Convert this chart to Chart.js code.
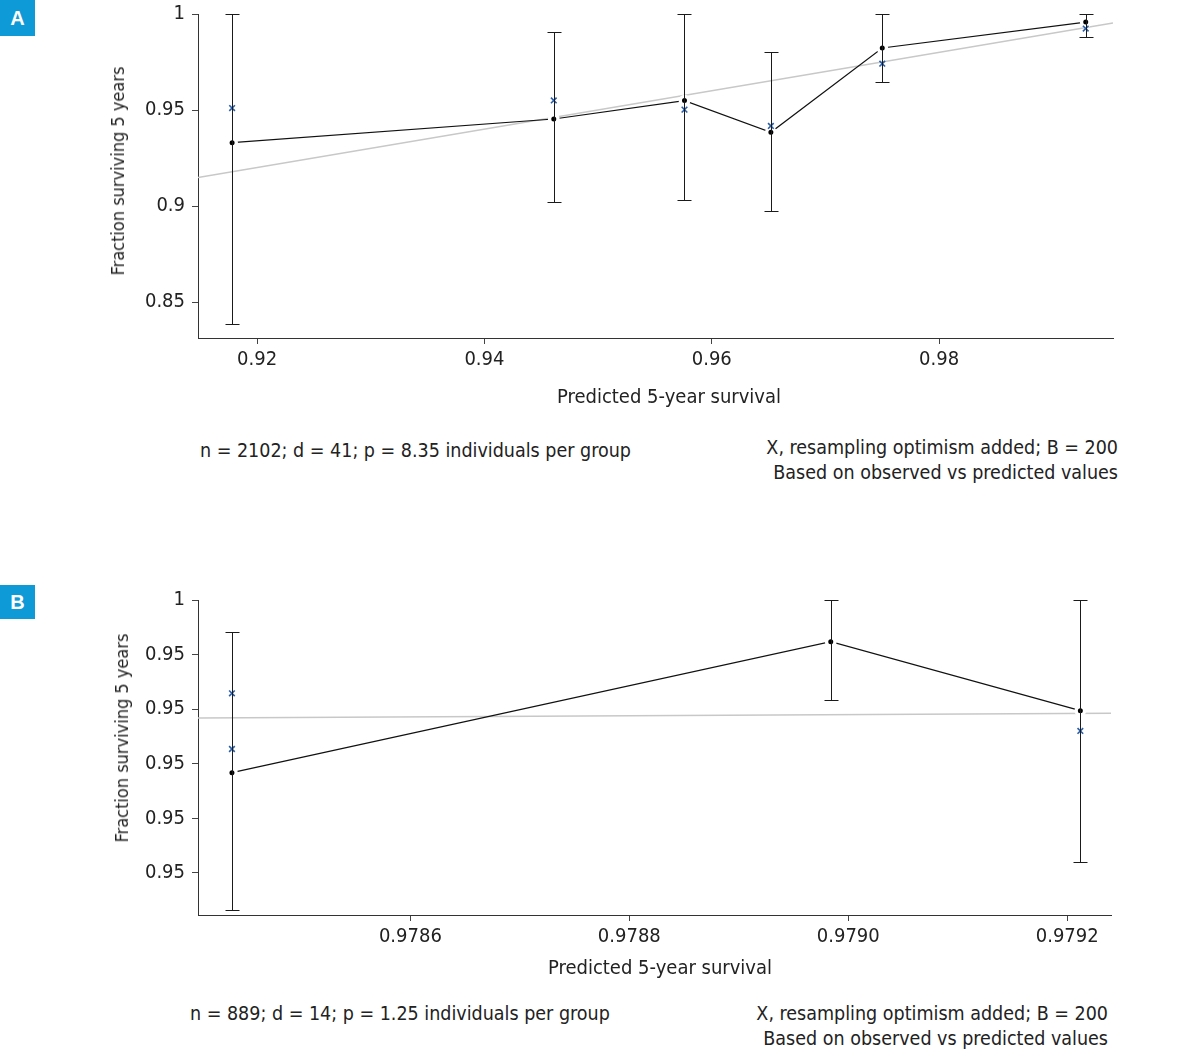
<!DOCTYPE html>
<html>
<head>
<meta charset="utf-8">
<script src="https://cdn.jsdelivr.net/npm/chart.js@4.4.1/dist/chart.umd.min.js"></script>
<style>
  body { margin: 0; background: #fff; width: 1199px; height: 1051px; position: relative; overflow: hidden;
         font-family: "Liberation Sans Narrow", "DejaVu Sans Condensed", sans-serif; color: #222; }
  canvas { position: absolute; left: 0; }
  .tag { position: absolute; left: 0; width: 35px; background: #0e9ad7; color: #fff; font: bold 20px "Liberation Sans", Arial, sans-serif;
         text-align: center; }
  .note { position: absolute; font-size: 19.5px; line-height: 25px; white-space: nowrap; }
  .axt { position: absolute; font-size: 20px; line-height: 24px; white-space: nowrap; transform: translate(-50%, -50%); }
  .axt.rot { font-size: 18px; transform: translate(-50%, -50%) rotate(-90deg); }
</style>
</head>
<body>
<div class="tag" style="top:0;height:36px;line-height:36px">A</div>
<div class="tag" style="top:585px;height:34px;line-height:34px">B</div>

<canvas id="chart-a" width="1199" height="420" style="top:0"></canvas>
<canvas id="chart-b" width="1199" height="420" style="top:580px"></canvas>

<div class="axt" style="left:669px;top:396px">Predicted 5-year survival</div>
<div class="axt rot" style="left:118px;top:171px">Fraction surviving 5 years</div>
<div class="axt" style="left:660px;top:967px">Predicted 5-year survival</div>
<div class="axt rot" style="left:122px;top:738px">Fraction surviving 5 years</div>

<div class="note" style="left:200px;top:438px">n = 2102; d = 41; p = 8.35 individuals per group</div>
<div class="note" style="right:81px;top:435px;text-align:right">X, resampling optimism added; B = 200<br>Based on observed vs predicted values</div>
<div class="note" style="left:190px;top:1001px">n = 889; d = 14; p = 1.25 individuals per group</div>
<div class="note" style="right:91px;top:1001px;text-align:right">X, resampling optimism added; B = 200<br>Based on observed vs predicted values</div>

<script>
// 面板 A 数据
const predA = [0.9178, 0.9461, 0.9576, 0.9652, 0.9750, 0.9929];
const obsA = [0.9330, 0.9453, 0.9549, 0.9384, 0.9823, 0.9958];
const optA = [0.9510, 0.9550, 0.9502, 0.9417, 0.9741, 0.9924];
const loA = [0.8385, 0.9021, 0.9031, 0.8976, 0.9647, 0.9879];
const hiA = [1.0, 0.9908, 1.0, 0.9804, 1.0, 1.0];
const xRangeA = [0.9148, 0.9953];
const yRangeA = [0.83125, 1];
const xTicksA = [0.92, 0.94, 0.96, 0.98];
const xTickLabelsA = ['0.92', '0.94', '0.96', '0.98'];
const yTicksA = [0.85, 0.9, 0.95, 1];
const yTickLabelsA = ['0.85', '0.9', '0.95', '1'];

// 面板 B 数据
const predB = [0.978437, 0.978984, 0.979212];
const obsB = [0.96837, 0.99237, 0.97973];
const optXB = [0.978437, 0.978437, 0.979212];
const optB = [0.98291, 0.97271, 0.97601];
const loB = [0.94322, 0.98175, 0.95196];
const hiB = [0.99420, 1.0, 1.0];
const xRangeB = [0.978406, 0.979240];
const yRangeB = [0.9423, 1];
const xTicksB = [0.9786, 0.9788, 0.979, 0.9792];
const xTickLabelsB = ['0.9786', '0.9788', '0.9790', '0.9792'];
const yTicksB = [0.95, 0.96, 0.97, 0.98, 0.99, 1];
const yTickLabelsB = ['0.95', '0.95', '0.95', '0.95', '0.95', '1'];

const FONT = '"Liberation Sans Narrow", "DejaVu Sans Condensed", sans-serif';
const INK = '#222';

// 误差线插件：用图表自己的坐标轴换算
const errorBars = {
    id: 'errorBars',
    afterDatasetsDraw(chart, args, opts) {
        const { ctx, scales: { x, y } } = chart;
        ctx.save();
        ctx.strokeStyle = '#1a1a1a';
        ctx.lineWidth = 1;
        opts.xs.forEach((v, i) => {
            const px = Math.round(x.getPixelForValue(v)) + 0.5;
            const top = Math.round(y.getPixelForValue(opts.hi[i])) + 0.5;
            const bot = Math.round(y.getPixelForValue(opts.lo[i])) + 0.5;
            ctx.beginPath();
            ctx.moveTo(px, top);
            ctx.lineTo(px, bot);
            ctx.moveTo(px - 7, top);
            ctx.lineTo(px + 7, top);
            ctx.moveTo(px - 7, bot);
            ctx.lineTo(px + 7, bot);
            ctx.stroke();
        });
        ctx.restore();
    }
};

function makeChart(id, p) {
    const pts = (xs, ys) => xs.map((v, i) => ({ x: v, y: ys[i] }));
    return new Chart(document.getElementById(id), {
        type: 'scatter',
        data: {
            datasets: [
                {
                    // 理想线 y = x
                    data: [{ x: p.xRange[0], y: p.xRange[0] }, { x: p.xRange[1], y: p.xRange[1] }],
                    showLine: true, borderColor: '#c8c8c8', borderWidth: 1.5,
                    pointRadius: 0, order: 3
                },
                {
                    data: pts(p.pred, p.obs),
                    showLine: true, borderColor: '#111', borderWidth: 1.2,
                    pointRadius: 4.2, pointBackgroundColor: '#000',
                    pointBorderColor: '#fff', pointBorderWidth: 3.4, order: 2
                },
                {
                    data: pts(p.optX, p.opt),
                    pointStyle: 'crossRot', pointRadius: 4,
                    borderColor: '#2b5ea8', borderWidth: 1.6, order: 1
                }
            ]
        },
        options: {
            responsive: false,
            animation: false,
            devicePixelRatio: 1,
            layout: { padding: { top: p.padTop, right: p.padRight, left: 0, bottom: 0 } },
            plugins: {
                legend: { display: false },
                tooltip: { enabled: false },
                errorBars: { xs: p.pred, lo: p.lo, hi: p.hi }
            },
            scales: {
                x: {
                    type: 'linear', min: p.xRange[0], max: p.xRange[1],
                    afterFit(s) { s.height = p.xAxisH; s.paddingLeft = 0; s.paddingRight = 0; },
                    afterBuildTicks(s) { s.ticks = p.xTicks.map(v => ({ value: v })); },
                    grid: { drawOnChartArea: false, drawTicks: true, tickLength: 6, color: '#444' },
                    border: { color: '#333', width: 1 },
                    ticks: {
                        color: INK, padding: 4, maxRotation: 0,
                        font: { family: FONT, size: 20 },
                        callback: (v) => p.xTickLabels[p.xTicks.indexOf(v)]
                    }
                },
                y: {
                    type: 'linear', min: p.yRange[0], max: p.yRange[1],
                    afterFit(s) { s.width = 198; s.paddingTop = 0; s.paddingBottom = 0; },
                    afterBuildTicks(s) { s.ticks = p.yTicks.map(v => ({ value: v })); },
                    grid: { drawOnChartArea: false, drawTicks: true, tickLength: 6, color: '#444' },
                    border: { color: '#333', width: 1 },
                    ticks: {
                        color: INK, padding: 7,
                        font: { family: FONT, size: 20 },
                        callback: (v) => p.yTickLabels[p.yTicks.indexOf(v)]
                    }
                }
            }
        },
        plugins: [errorBars]
    });
}

makeChart('chart-a', {
    pred: predA, obs: obsA, optX: predA, opt: optA, lo: loA, hi: hiA,
    xRange: xRangeA, yRange: yRangeA,
    xTicks: xTicksA, xTickLabels: xTickLabelsA, yTicks: yTicksA, yTickLabels: yTickLabelsA,
    padTop: 14, padRight: 86, xAxisH: 82
});

makeChart('chart-b', {
    pred: predB, obs: obsB, optX: optXB, opt: optB, lo: loB, hi: hiB,
    xRange: xRangeB, yRange: yRangeB,
    xTicks: xTicksB, xTickLabels: xTickLabelsB, yTicks: yTicksB, yTickLabels: yTickLabelsB,
    padTop: 20, padRight: 88, xAxisH: 85
});
</script>
</body>
</html>
